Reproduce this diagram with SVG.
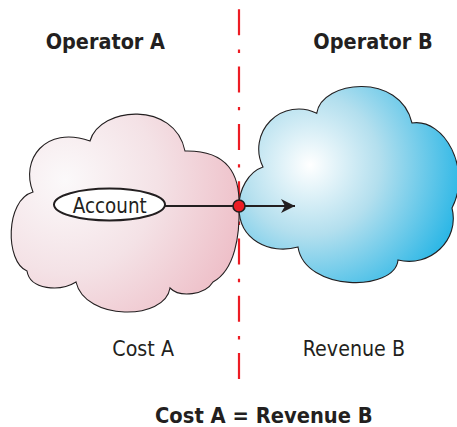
<svg xmlns="http://www.w3.org/2000/svg" width="457" height="427" viewBox="0 0 457 427">
  <style>
    .title { font-family: "DejaVu Sans", Verdana, sans-serif; font-weight: bold; font-size: 22px; fill: #231f20; }
    .label { font-family: "DejaVu Sans", Verdana, sans-serif; font-size: 22px; fill: #231f20; }
    .cloud { stroke: #231f20; stroke-width: 1.1; }
    .divider { stroke: #ed1c24; stroke-width: 2.2; stroke-dasharray: 26 14.3 3.4 13.6; fill: none; }
    .edge { stroke: #231f20; stroke-width: 2; fill: none; }
  </style>
  <defs>
    <radialGradient id="gradA" gradientUnits="userSpaceOnUse" cx="65" cy="180" r="185" fx="65" fy="180">
      <stop offset="0" stop-color="#fbf9fa"/>
      <stop offset="0.5" stop-color="#f4e2e6"/>
      <stop offset="1" stop-color="#eebfc8"/>
    </radialGradient>
    <radialGradient id="gradB" gradientUnits="userSpaceOnUse" cx="310" cy="165" r="155" fx="310" fy="165">
      <stop offset="0" stop-color="#ffffff"/>
      <stop offset="0.45" stop-color="#b3dfee"/>
      <stop offset="1" stop-color="#2cb7e6"/>
    </radialGradient>
    <marker id="arrow" markerUnits="userSpaceOnUse" markerWidth="16" markerHeight="16" viewBox="0 0 16 16" refX="14" refY="8" orient="auto">
      <path d="M14,8 L0,1 L4,8 L0,15 Z" fill="#231f20"/>
    </marker>
  </defs>

  <line class="divider" x1="239" y1="9.3" x2="239" y2="379"/>

  <g id="cloud-a">
    <path class="cloud" fill="url(#gradA)" d="M90,141 C100,106 175,101 185,151 C228,150 240,175 239,206 C240,235 235,270 213,282 C205,295 180,298 170,288 C165,321 85,321 76,282 C60,292 30,290 27,271 C5,262 5,200 33,192 C20,160 45,125 90,141 Z"/>
  </g>

  <g id="cloud-b">
    <path class="cloud" fill="url(#gradB)" d="M316.7,113.3 C322,80 400,72 412,123 C445,118 472,170 452,208 C460,240 430,268 398,260 C395,292 305,292 298,247 C270,255 238,240 239,206 C239,190 248,172 263,167 A40,40 0 0 1 316.7,113.3 Z"/>
  </g>

  <g id="connectors">
    <line class="edge" x1="165" y1="206" x2="295" y2="206" marker-end="url(#arrow)"/>
  </g>

  <g id="account">
    <ellipse cx="109.5" cy="204.5" rx="55.5" ry="16" fill="#ffffff" stroke="#231f20" stroke-width="2"/>
    <text class="label" x="72.7" y="212.5" textLength="74" lengthAdjust="spacingAndGlyphs">Account</text>
  </g>

  <g id="junction">
    <circle cx="239" cy="206" r="6" fill="#ed1c24" stroke="#231f20" stroke-width="1.6"/>
  </g>

  <g id="operator-a">
    <text class="title" x="45.7" y="49" textLength="119.3" lengthAdjust="spacingAndGlyphs">Operator A</text>
  </g>
  <g id="operator-b">
    <text class="title" x="313.3" y="49" textLength="119.4" lengthAdjust="spacingAndGlyphs">Operator B</text>
  </g>
  <g id="cost-a">
    <text class="label" x="112.3" y="355.7" textLength="61.7" lengthAdjust="spacingAndGlyphs">Cost A</text>
  </g>
  <g id="revenue-b">
    <text class="label" x="302.7" y="355.7" textLength="102.3" lengthAdjust="spacingAndGlyphs">Revenue B</text>
  </g>
  <g id="equation">
    <text class="title" x="155" y="423" textLength="217.7" lengthAdjust="spacingAndGlyphs">Cost A = Revenue B</text>
  </g>
</svg>
